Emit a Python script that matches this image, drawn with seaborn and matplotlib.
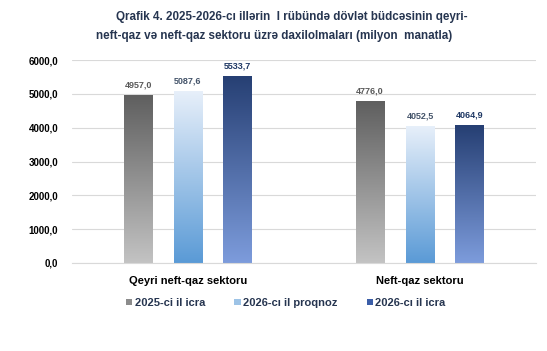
import numpy as np
import pandas as pd
import matplotlib
matplotlib.use("Agg")
import matplotlib.pyplot as plt
import seaborn as sns
from matplotlib.colors import LinearSegmentedColormap
from matplotlib.patches import Patch

categories = ["Qeyri neft-qaz sektoru", "Neft-qaz sektoru"]
series_names = ["2025-ci il icra", "2026-cı il proqnoz", "2026-cı il icra"]
values_2025_icra = [4957.0, 4776.0]
values_2026_proqnoz = [5087.6, 4052.5]
values_2026_icra = [5533.7, 4064.9]
y_ticks = [0, 1000, 2000, 3000, 4000, 5000, 6000]
title_line1 = "Qrafik 4. 2025-2026-cı illərin  I rübündə dövlət büdcəsinin qeyri-"
title_line2 = "neft-qaz və neft-qaz sektoru üzrə daxilolmaları (milyon  manatla)"

sns.set_theme(style="white")
plt.rcParams["font.family"] = ["Liberation Sans", "DejaVu Sans"]

df = pd.DataFrame({
    "category": categories * 3,
    "series": [series_names[0]] * 2 + [series_names[1]] * 2 + [series_names[2]] * 2,
    "value": values_2025_icra + values_2026_proqnoz + values_2026_icra,
})

# gradient (top, bottom) colours per series
grads = [("#5f5f5f", "#c3c3c3"), ("#e8f0fa", "#5a9ad6"), ("#263f73", "#7d9cdc")]
legend_cols = ["#8c8c8c", "#9dc3e6", "#3b5ea8"]
label_cols = ["#595959", "#44546a", "#1f3864"]
text_col = "#263550"

fig = plt.figure(figsize=(5.47, 3.51), dpi=100)
ax = fig.add_axes([72 / 547, 1 - 263 / 351, (536 - 72) / 547, (263 - 60) / 351])

sns.barplot(data=df, x="category", y="value", hue="series", order=categories,
            hue_order=series_names, width=0.645, gap=0.42, ax=ax,
            palette=legend_cols, legend=False, saturation=1)

ax.set_ylim(0, 6000)
ax.set_xlim(-0.5, 1.5)

for i, cont in enumerate(ax.containers):
    cmap = LinearSegmentedColormap.from_list(f"g{i}", [grads[i][1], grads[i][0]])
    for bar in cont:
        x0 = bar.get_x()
        w, h = bar.get_width(), bar.get_height()
        grad = np.linspace(0, 1, 256).reshape(-1, 1)
        img = ax.imshow(grad, extent=[x0, x0 + w, 0, h], origin="lower",
                        aspect="auto", cmap=cmap, zorder=bar.get_zorder(),
                        interpolation="bicubic")
        img.set_clip_path(bar)
        bar.set_facecolor("none")
        bar.set_edgecolor("none")
    ax.bar_label(cont, labels=[f"{v:.1f}".replace(".", ",") for v in cont.datavalues],
                 padding=4, fontsize=6.5, fontweight="bold", color=label_cols[i])

ax.set_xlim(-0.5, 1.5)
ax.set_ylim(0, 6000)
ax.set_yticks(y_ticks)
ax.set_yticklabels([f"{t:.1f}".replace(".", ",") for t in y_ticks],
                   fontsize=7, fontweight="bold", color="#000000")
ax.tick_params(axis="y", length=0, pad=10)
ax.tick_params(axis="x", length=0, pad=9)
for lab in ax.get_xticklabels():
    lab.set_fontsize(8)
    lab.set_fontweight("bold")
    lab.set_color("#000000")
ax.set_xlabel("")
ax.set_ylabel("")
ax.yaxis.grid(True, color="#d9d9d9", linewidth=0.8)
ax.set_axisbelow(True)
for s in ["top", "right", "left"]:
    ax.spines[s].set_visible(False)
ax.spines["bottom"].set_color("#d9d9d9")
ax.spines["bottom"].set_linewidth(0.8)

fig.text(292 / 547, 1 - 17 / 351, title_line1, ha="center", va="center",
         fontsize=8.4, fontweight="bold", color=text_col)
fig.text(274 / 547, 1 - 36 / 351, title_line2, ha="center", va="center",
         fontsize=8.4, fontweight="bold", color=text_col)

handles = [Patch(facecolor=c, edgecolor="none") for c in legend_cols]
fig.legend(handles, series_names, loc="center", bbox_to_anchor=(286 / 547, 1 - 303 / 351),
           ncol=3, frameon=False, handlelength=0.55, handleheight=0.55, handletextpad=0.25,
           columnspacing=2.6, labelcolor=text_col, prop={"size": 8, "weight": "bold"})

fig.savefig("out.png", dpi=100, facecolor="white")
